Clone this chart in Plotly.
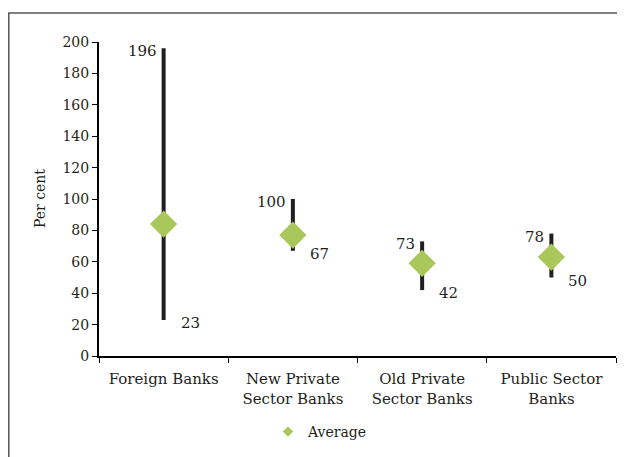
import plotly.graph_objects as go

categories = ["Foreign Banks", "New Private<br>Sector Banks", "Old Private<br>Sector Banks", "Public Sector<br>Banks"]
max_vals = [196, 100, 73, 78]
min_vals = [23, 67, 42, 50]
avg_vals = [84, 77, 59, 63]
y_ticks = [0, 20, 40, 60, 80, 100, 120, 140, 160, 180, 200]

FONT = "DejaVu Serif"
TXT = "#231f20"
GREEN = "#a9c75a"

fig = go.Figure()

# range lines
lx, ly = [], []
for c, lo, hi in zip(categories, min_vals, max_vals):
    lx += [c, c, None]
    ly += [lo, hi, None]
fig.add_trace(go.Scatter(x=lx, y=ly, mode="lines", line=dict(color=TXT, width=4),
                         showlegend=False, hoverinfo="skip"))

# averages
fig.add_trace(go.Scatter(x=categories, y=avg_vals, mode="markers",
                         marker=dict(symbol="diamond", size=21, color=GREEN),
                         showlegend=False, name="Average"))
# legend entry
fig.add_trace(go.Scatter(x=[None], y=[None], mode="markers",
                         marker=dict(symbol="diamond", size=8, color=GREEN),
                         name="Average", showlegend=True))

ann = []
for c, lo, hi in zip(categories, min_vals, max_vals):
    ann.append(dict(x=c, y=hi, xref="x", yref="y", text=str(hi), showarrow=False,
                    xanchor="right", xshift=-5, yshift=-3,
                    font=dict(family=FONT, size=15, color=TXT)))
    ann.append(dict(x=c, y=lo, xref="x", yref="y", text=str(lo), showarrow=False,
                    xanchor="left", xshift=15, yshift=-3,
                    font=dict(family=FONT, size=15, color=TXT)))
ann.append(dict(x=(40 - 99) / 517, y=0.5, xref="paper", yref="paper", text="Per cent",
                textangle=-90, showarrow=False, xanchor="center", yanchor="middle",
                font=dict(family=FONT, size=14, color=TXT)))

fig.update_layout(
    width=617, height=449,
    margin=dict(l=91, r=9, t=34, b=101),
    paper_bgcolor="white", plot_bgcolor="white",
    font=dict(family=FONT, size=14, color=TXT),
    annotations=ann,
    showlegend=True,
    legend=dict(orientation="h", x=(268 - 99) / 517, xanchor="left",
                y=(356 - 432) / 314, yanchor="middle",
                font=dict(family=FONT, size=14, color=TXT), bgcolor="rgba(0,0,0,0)"),
    xaxis=dict(type="category", range=[-0.5, 3.5], showgrid=False, zeroline=False,
               showline=True, linecolor="black", linewidth=2,
               ticks="outside", tickson="boundaries", ticklen=5, tickcolor="black",
               tickwidth=1, ticklabelstandoff=8,
               tickfont=dict(family=FONT, size=15, color=TXT)),
    yaxis=dict(range=[0, 200], tickvals=y_ticks, showgrid=False, zeroline=False,
               showline=True, linecolor="black", linewidth=2,
               ticks="outside", ticklen=5, tickcolor="black", tickwidth=1,
               tickfont=dict(family=FONT, size=14, color=TXT)),
    shapes=[dict(type="path", xref="paper", yref="paper",
                 path="M %f,%f L %f,%f L %f,%f" % ((8.8 - 99) / 517, (356 - 470) / 314,
                                                   (8.8 - 99) / 517, (356 - 13) / 314,
                                                   (640 - 99) / 517, (356 - 13) / 314),
                 line=dict(color="#555555", width=1.5))],
)

fig.write_html("out.html")
